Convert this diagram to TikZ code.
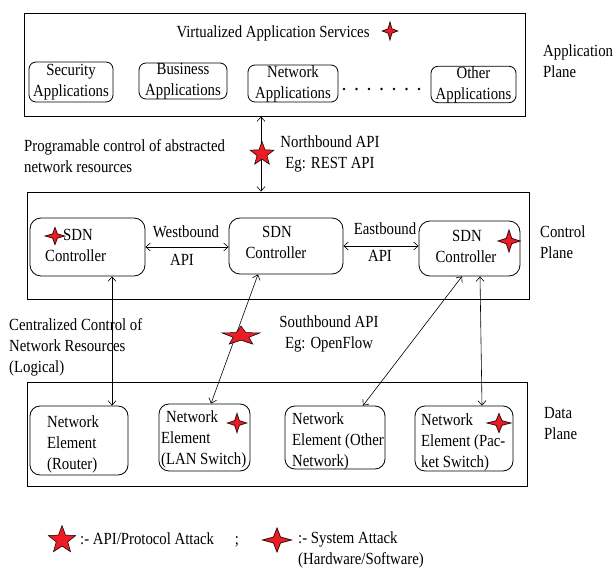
\documentclass[tikz,border=0pt]{standalone}
\usepackage{fontspec}
\setmainfont{Liberation Serif}[FakeStretch=0.87]
\usetikzlibrary{arrows.meta,shapes.geometric}
\definecolor{atkred}{RGB}{236,28,36}
\begin{document}
\begin{tikzpicture}[x=1pt,y=-1pt,
  font=\fontsize{17}{21}\selectfont,
  plane/.style={draw, line width=0.9pt, inner sep=0pt},
  appbox/.style={draw, rounded corners=7pt, inner sep=0pt, align=center, line width=0.8pt},
  ctrlbox/.style={draw, rounded corners=11pt, inner sep=0pt, line width=0.8pt},
  nebox/.style={draw, rounded corners=10pt, inner sep=0pt, line width=0.8pt},
  txt/.style={inner sep=0pt, align=left, anchor=west},
  ctxt/.style={inner sep=0pt, align=center},
  link/.style={{Straight Barb[length=4.5pt,width=8pt]}-{Straight Barb[length=4.5pt,width=8pt]}, line width=0.6pt},
  protoatk/.style={star, star points=5, star point ratio=2.4, fill=atkred, draw=black, line width=0.5pt, inner sep=0pt},
  sysatk/.style={star, star points=4, star point ratio=2.9, fill=atkred, draw=black!75!atkred, line width=0.8pt, inner sep=0pt},
  dot/.style={circle, fill, inner sep=0pt, minimum size=2.8pt}
]
\useasboundingbox (0,0) rectangle (613,569);

% ---------- Application plane ----------
\node[plane, minimum width=501pt, minimum height=103pt] (app) at (274.5,64.5) {};
\node[ctxt] (vas) at (273,33) {Virtualized Application Services};
\node[sysatk, minimum size=18pt, xscale=0.85] (vasatk) at (390,31) {};
\node[appbox, minimum width=84pt, minimum height=40pt] (sec) at (71,82) {Security\\Applications};
\node[appbox, minimum width=88pt, minimum height=36pt] (bus) at (183,81) {Business\\Applications};
\node[appbox, minimum width=90pt, minimum height=37pt] (net) at (293,83.5) {Network\\Applications};
\node[appbox, minimum width=85pt, minimum height=35pt] (oth) at (473.5,84.5) {Other\\Applications};
\foreach \i in {0,...,6} \node[dot] (dot\i) at (344+12.5*\i,89) {};
\node[txt] (applbl) at (543,61) {Application\\Plane};

% ---------- Northbound interface ----------
\node[txt] (prog) at (24,156.5) {Programable control of abstracted\\network resources};
\node[ctxt] (nbtxt) at (330,154) {Northbound API\\Eg: REST API};

% ---------- Control plane ----------
\node[plane, minimum width=502pt, minimum height=107pt] (ctl) at (278,245.5) {};
\node[ctrlbox, minimum width=115pt, minimum height=58pt] (c1) at (87.5,247) {};
\node[ctrlbox, minimum width=114pt, minimum height=56pt] (c2) at (286,246) {};
\node[ctrlbox, minimum width=101pt, minimum height=55pt] (c3) at (469.5,248.5) {};
\node[txt] (c1a) at (63,235) {SDN};
\node[txt] (c1b) at (45,256) {Controller};
\node[sysatk, minimum size=17pt, xscale=1.15] (c1atk) at (55,236) {};
\node[ctxt] (c2a) at (277,232) {SDN};
\node[ctxt] (c2b) at (276,253) {Controller};
\node[ctxt] (c3a) at (467,236) {SDN};
\node[ctxt] (c3b) at (466,257) {Controller};
\node[sysatk, minimum size=22pt] (c3atk) at (509,241) {};
\node[txt] (ctllbl) at (540,242.5) {Control\\Plane};

\draw[link] (c1.east) -- (c1.east -| c2.west);
\draw[link] (c2.east) -- (c2.east -| c3.west);
\node[ctxt] (wb1) at (186,232) {Westbound};
\node[ctxt] (wb2) at (182,260) {API};
\node[ctxt] (eb1) at (385,229) {Eastbound};
\node[ctxt] (eb2) at (380,256) {API};

\draw[link] ([xshift=-13.5pt]app.south) -- ([xshift=-17pt]ctl.north);
\node[protoatk, minimum size=25pt] (nbatk) at (262,154) {};

% ---------- Southbound interface ----------
\node[txt] (cent) at (9,347) {Centralized Control of\\Network Resources\\(Logical)};
\node[ctxt] (sbtxt) at (329,334) {Southbound API\\Eg: OpenFlow};

% ---------- Data plane ----------
\node[plane, minimum width=500pt, minimum height=104pt] (data) at (277,434) {};
\node[nebox, minimum width=98pt, minimum height=69pt] (ne1) at (79,440.5) {};
\node[nebox, minimum width=91pt, minimum height=67pt] (ne2) at (204.5,437.5) {};
\node[nebox, minimum width=100pt, minimum height=63pt] (ne3) at (335,437.5) {};
\node[nebox, minimum width=98pt, minimum height=65pt] (ne4) at (464,438.5) {};
\node[txt] (ne1t) at (47,444) {Network\\Element\\(Router)};
\node[txt] (ne2t) at (161,439) {\hspace*{5pt}Network\\Element\\(LAN Switch)};
\node[txt] (ne3t) at (292,441.5) {Network\\Element (Other\\Network)};
\node[txt] (ne4t) at (421,442.5) {Network\\Element (Pac-\\ket Switch)};
\node[sysatk, minimum size=19pt] (ne2atk) at (237,423) {};
\node[sysatk, minimum size=19pt, xscale=1.25] (ne4atk) at (499,423) {};
\node[txt] (datalbl) at (544,424) {Data\\Plane};

\draw[link] ([xshift=24.5pt]c1.south) -- ([xshift=33pt]ne1.north);
\draw[link] ([xshift=-28pt]c2.south) -- ([xshift=6.5pt]ne2.north);
\draw[link] ([xshift=-7.5pt]c3.south) -- ([xshift=28pt]ne3.north);
\draw[link] ([xshift=10.5pt]c3.south) -- ([xshift=18pt]ne4.north);
\node[protoatk, minimum size=20pt, xscale=2] (sbatk) at (241,336) {};

% ---------- Legend ----------
\node[protoatk, minimum size=29pt] (lgproto) at (62,540) {};
\node[txt] (lgprotot) at (80,539) {:- API/Protocol Attack};
\node[ctxt] (lgsep) at (237,542) {;};
\node[sysatk, minimum size=24pt, xscale=1.2] (lgsys) at (277,540) {};
\node[txt] (lgsyst) at (298,550) {:- System Attack\\(Hardware/Software)};
\end{tikzpicture}
\end{document}
